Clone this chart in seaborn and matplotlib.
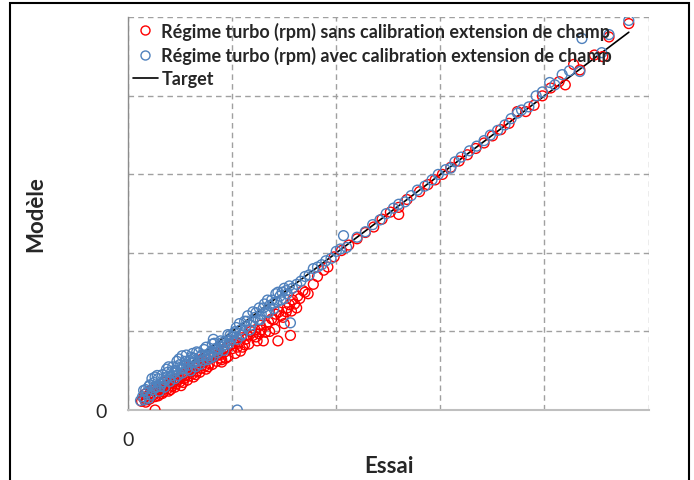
import matplotlib

matplotlib.use("Agg")

import matplotlib.pyplot as plt
import seaborn as sns
from matplotlib.lines import Line2D
from matplotlib.patches import Rectangle


# Régime turbo sans calibration (red)
sans_x = [
    0.13, 0.15, 0.17, 0.19, 0.21, 0.23, 0.26, 0.26, 0.28, 0.30, 0.32, 0.34, 0.36, 0.38,
    0.40, 0.42, 0.44, 0.46, 0.48, 0.50, 0.52, 0.54, 0.56, 0.58, 0.60, 0.62, 0.64, 0.66,
    0.68, 0.70, 0.72, 0.74, 0.76, 0.78, 0.90, 0.82, 0.85, 0.88, 0.90, 0.93, 0.96, 1.00,
    1.03, 1.06, 1.10, 1.13, 1.16, 1.20, 1.24, 1.28, 1.30, 1.33, 1.36, 1.40, 1.44, 1.47,
    1.50, 1.53, 1.56, 1.60, 1.65, 1.70, 1.73, 1.78, 1.82, 1.88, 1.92, 1.98, 2.05, 2.12,
    2.20, 2.28, 2.36, 2.44, 2.52, 2.60, 2.68, 2.60, 2.80, 2.88, 2.95, 3.02, 3.10, 3.18,
    3.26, 3.34, 3.42, 3.50, 3.58, 3.66, 3.74, 3.82, 3.90, 3.98, 4.06, 4.14, 4.20, 4.28,
    4.34, 4.48, 4.56, 4.62, 4.81,
    0.16, 0.22, 0.29, 0.35, 0.41, 0.47, 0.53, 0.59, 0.65, 0.71, 0.77, 0.83, 0.89, 0.95,
    1.02, 1.08, 1.15, 1.22, 1.26, 1.35, 1.42, 1.52, 1.58, 1.62,
    0.18, 0.24, 0.27, 0.31, 0.33, 0.37, 0.39, 0.43, 0.45, 0.49, 0.51, 0.55, 0.57, 0.61,
    0.63, 0.67, 0.69, 0.73, 0.75, 0.79, 0.81, 0.86, 0.91, 0.94, 0.99, 1.05, 1.09, 1.12,
    1.18, 1.23, 1.27, 1.32, 1.38, 1.41, 1.45, 1.49, 1.55, 1.57, 1.63, 1.68,
]
sans_y = [
    0.11, 0.15, 0.10, 0.18, 0.14, 0.22, 0.00, 0.17, 0.25, 0.20, 0.28, 0.23, 0.31, 0.27,
    0.34, 0.30, 0.38, 0.33, 0.41, 0.36, 0.44, 0.40, 0.47, 0.43, 0.51, 0.46, 0.54, 0.49,
    0.57, 0.53, 0.60, 0.56, 0.64, 0.59, 0.61, 0.67, 0.62, 0.70, 0.64, 0.74, 0.68, 0.78,
    0.72, 0.85, 0.80, 0.90, 0.84, 0.95, 0.88, 1.02, 0.88, 1.08, 1.00, 1.15, 0.88, 1.20,
    1.10, 1.30, 0.95, 1.35, 1.42, 1.50, 1.48, 1.60, 1.70, 1.78, 1.82, 1.95, 2.03, 2.10,
    2.18, 2.26, 2.33, 2.43, 2.52, 2.58, 2.68, 2.49, 2.78, 2.87, 2.93, 3.00, 3.09, 3.17,
    3.25, 3.33, 3.40, 3.49, 3.57, 3.65, 3.80, 3.80, 3.88, 4.00, 4.10, 4.18, 4.14, 4.40,
    4.33, 4.52, 4.50, 4.75, 4.92,
    0.20, 0.25, 0.18, 0.35, 0.26, 0.38, 0.35, 0.55, 0.45, 0.65, 0.55, 0.72, 0.66, 0.80,
    0.88, 0.75, 0.95, 1.02, 0.97, 1.12, 1.22, 1.25, 1.40, 1.30,
    0.13, 0.19, 0.22, 0.26, 0.21, 0.30, 0.24, 0.35, 0.29, 0.39, 0.31, 0.44, 0.38, 0.49,
    0.42, 0.55, 0.48, 0.62, 0.52, 0.66, 0.58, 0.70, 0.75, 0.66, 0.84, 0.80, 0.92, 0.83,
    1.00, 0.93, 1.08, 0.99, 1.16, 1.03, 1.25, 1.18, 1.34, 1.26, 1.45, 1.52,
]

# Régime turbo avec calibration (blue)
avec_x = [
    0.12, 0.14, 0.16, 0.18, 0.20, 0.22, 0.24, 0.25, 0.27, 0.29, 0.30, 0.32, 0.33, 0.35,
    0.36, 0.38, 0.40, 0.41, 0.43, 0.45, 0.46, 0.48, 0.50, 0.52, 0.53, 0.55, 0.57, 0.58,
    0.60, 0.62, 0.63, 0.65, 0.67, 0.69, 0.70, 0.72, 0.74, 0.76, 0.78, 0.80, 0.82, 0.84,
    0.86, 0.88, 0.90, 0.92, 0.95, 0.97, 1.00, 1.02, 1.05, 1.08, 1.10, 1.13, 1.15, 1.18,
    1.20, 1.23, 1.25, 1.28, 1.30, 1.33, 1.36, 1.38, 1.40, 1.43, 1.46, 1.48, 1.50, 1.53,
    1.56, 1.05,
    1.58, 1.62, 1.66, 1.70, 1.74, 1.78, 1.82, 1.86, 1.90, 1.95, 2.00, 2.04, 2.07, 2.10,
    2.20, 2.28, 2.35, 2.42, 2.48, 2.55, 2.60, 2.66, 2.72, 2.78, 2.85, 2.92, 2.98, 3.05,
    3.10, 3.14, 3.20, 3.28, 3.35, 3.42, 3.48, 3.55, 3.62, 3.68, 3.74, 3.78, 3.85, 3.92,
    3.98, 4.05, 4.10, 4.17, 4.24, 4.34, 4.36, 4.55, 4.62, 4.81,
    0.15, 0.20, 0.26, 0.31, 0.37, 0.42, 0.47, 0.51, 0.56, 0.61, 0.66, 0.71, 0.75, 0.79,
    0.83, 0.87, 0.91, 0.98, 1.04, 1.12, 1.20, 1.26, 1.34, 1.42, 1.50,
    0.17, 0.21, 0.23, 0.26, 0.28, 0.34, 0.37, 0.39, 0.44, 0.47, 0.49, 0.52, 0.54, 0.59,
    0.62, 0.64, 0.68, 0.73, 0.77, 0.81, 0.82, 0.85, 0.89, 0.93, 0.96, 0.99, 1.03, 1.07,
    1.09, 1.14, 1.17, 1.22, 1.27, 1.31, 1.35, 1.40, 1.44, 1.47, 1.52, 1.55,
]
avec_y = [
    0.12, 0.17, 0.13, 0.22, 0.30, 0.19, 0.26, 0.35, 0.30, 0.40, 0.24, 0.33, 0.45, 0.29,
    0.38, 0.48, 0.36, 0.43, 0.55, 0.40, 0.50, 0.44, 0.58, 0.47, 0.53, 0.62, 0.52, 0.57,
    0.50, 0.60, 0.66, 0.55, 0.62, 0.58, 0.68, 0.63, 0.70, 0.64, 0.72, 0.75, 0.68, 0.78,
    0.73, 0.82, 0.80, 0.76, 0.88, 0.85, 0.93, 0.98, 0.90, 1.02, 0.97, 1.06, 1.20, 1.08,
    1.13, 1.24, 1.15, 1.22, 1.30, 1.25, 1.33, 1.40, 1.29, 1.38, 1.45, 1.50, 1.42, 1.48,
    1.11, 0.00,
    1.55, 1.60, 1.64, 1.70, 1.72, 1.80, 1.82, 1.85, 1.90, 1.93, 2.02, 2.05, 2.22, 2.07,
    2.20, 2.27, 2.36, 2.42, 2.50, 2.57, 2.62, 2.65, 2.73, 2.80, 2.85, 2.93, 3.00, 3.06,
    3.08, 3.16, 3.22, 3.30, 3.36, 3.43, 3.50, 3.56, 3.63, 3.71, 3.78, 3.82, 3.86, 4.00,
    4.05, 4.17, 4.14, 4.27, 4.32, 4.31, 4.73, 4.55, 4.78, 4.96,
    0.25, 0.15, 0.42, 0.30, 0.52, 0.49, 0.62, 0.52, 0.70, 0.67, 0.74, 0.70, 0.80, 0.66,
    0.85, 0.78, 0.86, 0.95, 1.05, 1.13, 1.25, 1.30, 1.40, 1.48, 1.55,
    0.26, 0.32, 0.40, 0.28, 0.44, 0.36, 0.42, 0.55, 0.47, 0.55, 0.65, 0.69, 0.56, 0.63,
    0.72, 0.61, 0.73, 0.77, 0.69, 0.84, 0.90, 0.76, 0.88, 0.83, 0.96, 0.89, 1.00, 1.10,
    0.95, 1.13, 1.02, 1.18, 1.15, 1.35, 1.24, 1.36, 1.50, 1.40, 1.52, 1.58,
]

target_x = [0.12, 4.81]
target_y = [0.12, 4.81]

tick_values = [0, 1, 2, 3, 4, 5]
tick_labels = ["0", "", "", "", "", ""]

label_sans = "Régime turbo (rpm) sans calibration extension de champ"
label_avec = "Régime turbo (rpm) avec calibration extension de champ"

RED = "#FF0000"
BLUE = "#4F81BD"

sns.set_theme(style="white")
plt.rcParams["font.family"] = ["Lato", "DejaVu Sans"]

fig = plt.figure(figsize=(6.94, 4.81), dpi=100)
ax = fig.add_axes([128 / 694, 1 - 411 / 481, (649 - 128) / 694, (411 - 18) / 481])

sns.lineplot(x=target_x, y=target_y, ax=ax, color="black", linewidth=1.2, zorder=2)

# open circles: draw then strip the face colour of the new collection
for xs, ys, col, z in [(sans_x, sans_y, RED, 3), (avec_x, avec_y, BLUE, 4)]:
    sns.scatterplot(x=xs, y=ys, ax=ax, s=50, linewidth=1.0, zorder=z)
    pts = ax.collections[-1]
    pts.set_facecolor("none")
    pts.set_edgecolor(col)

ax.set_xlim(0, 5.004)
ax.set_ylim(0, 5.004)
ax.set_xticks(tick_values)
ax.set_yticks(tick_values)
ax.set_xticklabels(tick_labels, fontsize=14)
ax.set_yticklabels(tick_labels, fontsize=14)
ax.tick_params(axis="both", direction="out", length=6, width=1, color="#A6A6A6")
ax.tick_params(axis="x", pad=9)
ax.tick_params(axis="y", pad=9)
ax.grid(True, color="#A0A0A0", linestyle=(0, (4, 3)), linewidth=1)

for side in ["top", "right"]:
    ax.spines[side].set_visible(False)
ax.spines["left"].set_color("#8C8C8C")
ax.spines["bottom"].set_color("#BFBFBF")
ax.spines["left"].set_linewidth(1)
ax.spines["bottom"].set_linewidth(1.5)

ax.set_xlabel("Essai", fontsize=16, fontweight="bold", labelpad=5)
ax.set_ylabel("Modèle", fontsize=16, fontweight="bold", labelpad=36)

handles = [
    Line2D([], [], marker="o", linestyle="none", markerfacecolor="none",
           markeredgecolor=RED, markersize=6.5),
    Line2D([], [], marker="o", linestyle="none", markerfacecolor="none",
           markeredgecolor=BLUE, markersize=6.5),
    Line2D([], [], color="black", linewidth=1.2),
]
ax.legend(handles, [label_sans, label_avec, "Target"], loc="upper left",
          bbox_to_anchor=(0.0, 1.0), frameon=False, borderaxespad=0,
          borderpad=0.25, handlelength=1.4, handletextpad=0.2, labelspacing=0.35,
          prop={"size": 13, "weight": "bold"})

fig.patches.append(Rectangle((10 / 694, -0.05), (689 - 10) / 694, 1.05 - 4 / 481,
                             transform=fig.transFigure, fill=False,
                             edgecolor="black", linewidth=1.5))

fig.savefig("out.png", dpi=100)
